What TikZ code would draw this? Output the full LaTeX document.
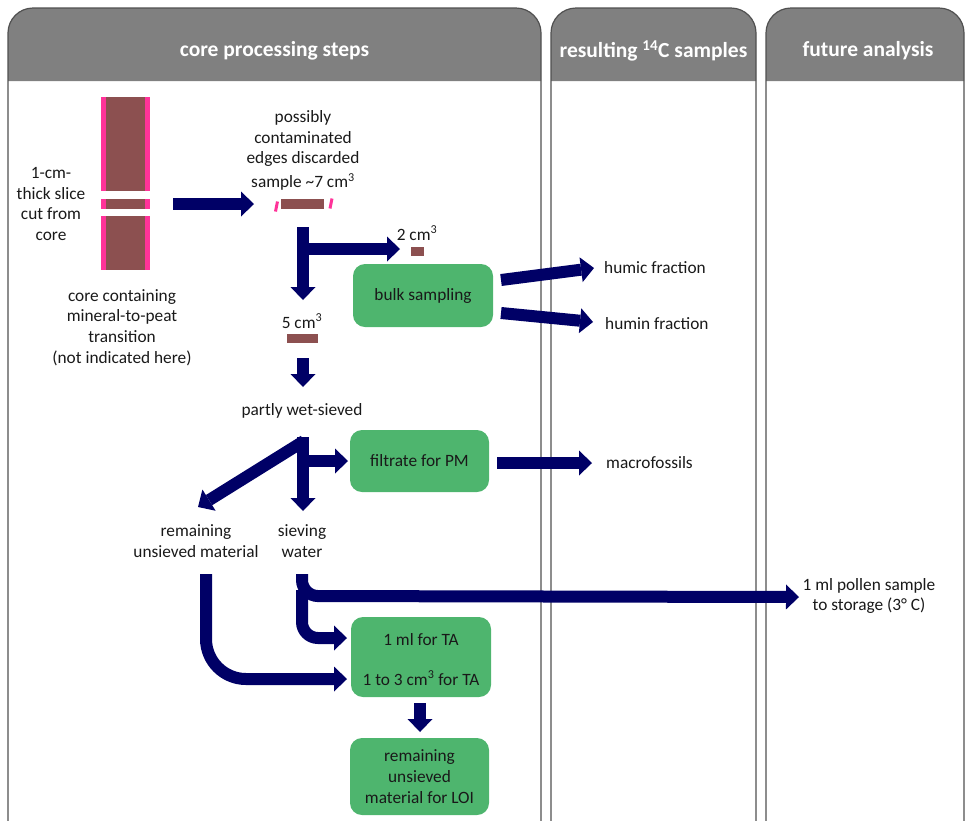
\documentclass[tikz,border=0pt]{standalone}
\usepackage{fontspec}
\setmainfont{Carlito}
\usetikzlibrary{arrows.meta}
\definecolor{navy}{RGB}{0,0,102}
\definecolor{boxgreen}{RGB}{78,181,110}
\definecolor{brownc}{RGB}{140,80,80}
\definecolor{pinkc}{RGB}{255,51,153}
\definecolor{headgray}{RGB}{128,128,128}
\definecolor{bordergray}{RGB}{80,80,80}
\tikzset{
  fat/.style={draw=navy, line width=12pt, -{Triangle[length=13pt,width=25pt,line width=0pt]}},
  txt/.style={align=center, font=\fontsize{17.3}{20.7}\selectfont, inner sep=0pt, text=black!90},
  head/.style={font=\fontsize{21.5}{24}\selectfont\bfseries, text=white, inner sep=0pt},
  greenbox/.style={fill=boxgreen, rounded corners=12pt, inner sep=0pt},
  colborder/.style={draw=bordergray, line width=1.2pt, rounded corners=25pt},
}
\begin{document}
\begin{tikzpicture}[x=1pt,y=-1pt]
\useasboundingbox (0,0) rectangle (965,820);
% columns
\foreach \l/\r in {8/541, 551/756, 766/964}{
  \fill[headgray, rounded corners=25pt] (\l,81) -- (\l,8) -- (\r,8) [sharp corners] -- (\r,81) -- cycle;
  \draw[colborder] (\l,822) -- (\l,8) -- (\r,8) -- (\r,822);
}
\node[head] (h1) at (274.5,51) {core processing steps};
\node[head] (h2) at (653.5,51) {resulting \textsuperscript{14}C samples};
\node[head] (h3) at (868,51) {future analysis};
% core
\fill[pinkc] (101,97) rectangle (150,191);
\fill[brownc] (106,97) rectangle (145,191);
\fill[pinkc] (101,199) rectangle (150,209);
\fill[brownc] (106,199) rectangle (145,209);
\fill[pinkc] (101,216) rectangle (150,270);
\fill[brownc] (106,216) rectangle (145,270);
% sample bars
\fill[brownc] (281,199) rectangle (324,209);
\draw[pinkc, line width=3pt] (275.5,211.5) -- (277.5,201.5);
\draw[pinkc, line width=3pt] (330,208.5) -- (332,198.5);
\fill[brownc] (411,247) rectangle (424,256);
\fill[brownc] (287,334) rectangle (318,343);
% texts
\node[txt] (slice) at (51,204) {1-cm-\\thick slice\\cut from\\core};
\node[txt] (corelbl) at (122,327.5) {core containing\\mineral-to-peat\\transition\\(not indicated here)};
\node[txt] (edges) at (303,138.5) {possibly\\contaminated\\edges discarded};
\node[txt] (s7) at (303,182) {sample \textasciitilde7 cm\textsuperscript{3}};
\node[txt] (two) at (417,233) {2 cm\textsuperscript{3}};
\node[txt] (five) at (302,321) {5 cm\textsuperscript{3}};
\node[txt] (wet) at (302,411) {partly wet-sieved};
\node[txt] (rem) at (196,541) {remaining\\unsieved material};
\node[txt] (sw) at (302,541) {sieving\\water};
\node[txt, anchor=west] (humic) at (604,268) {humic fraction};
\node[txt, anchor=west] (humin) at (605,324) {humin fraction};
\node[txt, anchor=west] (macro) at (606,463) {macrofossils};
\node[txt] (pollen) at (869,596) {1 ml pollen sample\\to storage (3° C)};
% boxes
\node[greenbox, minimum width=140pt, minimum height=63pt, txt] (bulk) at (423,295.5) {bulk sampling};
\node[greenbox, minimum width=139pt, minimum height=62pt, txt] (filt) at (419.5,461) {filtrate for PM};
\node[greenbox, minimum width=140pt, minimum height=80pt] (ta) at (421,657) {};
\node[txt] (ta1) at (421,640) {1 ml for TA};
\node[txt] (ta2) at (421,678) {1 to 3 cm\textsuperscript{3} for TA};
\node[greenbox, minimum width=139pt, minimum height=77pt, txt] (loi) at (419.5,776.5) {remaining\\unsieved\\material for LOI};
% arrow coordinates
\coordinate (a1s) at (173,204); \coordinate (a1e) at (254,204);
\coordinate (a2s) at (303,227); \coordinate (a2e) at (303,300);
\coordinate (a2b) at (303,249); \coordinate (a2r) at (400,249);
\coordinate (a3s) at (501,280); \coordinate (a3e) at (594,268);
\coordinate (a4s) at (501,313); \coordinate (a4e) at (593,322);
\coordinate (a5s) at (303,358); \coordinate (a5e) at (303,387);
\coordinate (a6s) at (303,437); \coordinate (a6e) at (303,511);
\coordinate (a6b) at (303,461); \coordinate (a6r) at (348,461);
\coordinate (a6d) at (304,441); \coordinate (a6l) at (198,507);
\coordinate (a7s) at (497,463); \coordinate (a7e) at (592,463);
\coordinate (a8s) at (206,574); \coordinate (a8c) at (206,679); \coordinate (a8e) at (347,679);
\coordinate (a9s) at (302,574); \coordinate (a9c) at (302,596); \coordinate (a9e) at (799,597);
\coordinate (a10s) at (302,590); \coordinate (a10c) at (302,638); \coordinate (a10e) at (347,638);
\coordinate (a11s) at (420,703); \coordinate (a11e) at (420,732);
% arrows
\draw[fat] (a1s) -- (a1e);
\draw[fat] (a2s) -- (a2e);
\draw[fat] (a2b) -- (a2r);
\draw[fat] (a3s) -- (a3e);
\draw[fat] (a4s) -- (a4e);
\draw[fat] (a5s) -- (a5e);
\draw[fat] (a6s) -- (a6e);
\draw[fat] (a6b) -- (a6r);
\draw[fat] (a6d) -- (a6l);
\draw[fat] (a7s) -- (a7e);
\draw[fat, rounded corners=40pt] (a8s) -- (a8c) -- (a8e);
\draw[fat, rounded corners=16pt] (a9s) -- (a9c) -- (a9e);
\draw[fat, rounded corners=16pt] (a10s) -- (a10c) -- (a10e);
\draw[fat] (a11s) -- (a11e);
\end{tikzpicture}
\end{document}
